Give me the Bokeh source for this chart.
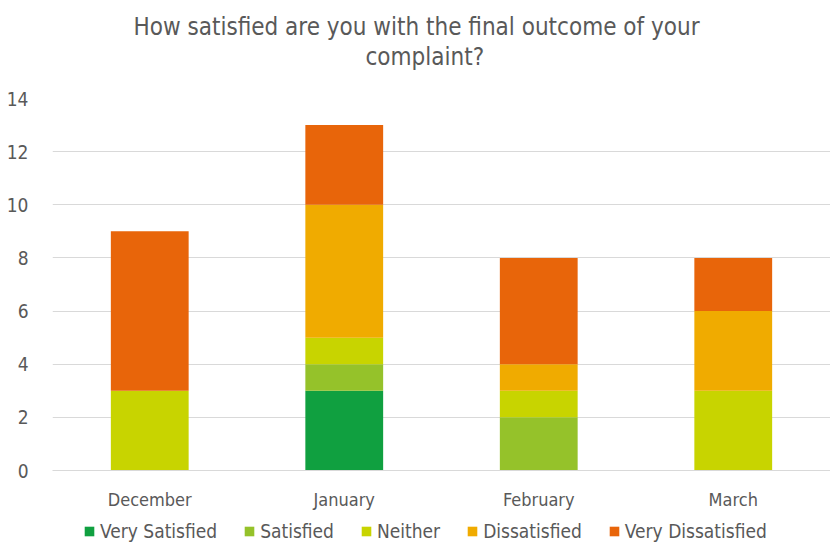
from bokeh.plotting import figure
from bokeh.models import (ColumnDataSource, Legend, Title, FactorRange, Range1d,
                          SingleIntervalTicker)
from bokeh.layouts import column
from bokeh.embed import file_html
from bokeh.resources import INLINE

months = ["December", "January", "February", "March"]
series = ["Very Satisfied", "Satisfied", "Neither", "Dissatisfied", "Very Dissatisfied"]
very_satisfied = [0, 3, 0, 0]
satisfied = [0, 1, 2, 0]
neither = [3, 1, 1, 3]
dissatisfied = [0, 5, 1, 3]
very_dissatisfied = [6, 3, 4, 2]
colors = ["#10a040", "#95c22a", "#c8d400", "#f0ab00", "#e8650a"]

FONT = "DejaVu Sans Condensed"
TXT = "#595959"

src = ColumnDataSource(dict(month=months, **{
    "Very Satisfied": very_satisfied,
    "Satisfied": satisfied,
    "Neither": neither,
    "Dissatisfied": dissatisfied,
    "Very Dissatisfied": very_dissatisfied,
}))

p = figure(frame_width=778, frame_height=372, x_range=FactorRange(*months, range_padding=0),
           y_range=Range1d(0, 14), output_backend="svg", toolbar_location=None,
           min_border_left=52, min_border_right=0, min_border_top=98, min_border_bottom=44)
p.title.visible = False

t2 = Title(text="complaint?", align="left", text_font=FONT, text_font_size="24px",
           text_color=TXT, text_font_style="normal", offset=313, standoff=55)
t1 = Title(text="How satisfied are you with the final outcome of your", align="left",
           text_font=FONT, text_font_size="24px", text_color=TXT,
           text_font_style="normal", offset=81, standoff=-55)
p.add_layout(t2, "above")
p.add_layout(t1, "above")

p.vbar_stack(series, x="month", width=0.4, source=src, color=colors, line_color=None)

p.outline_line_color = None
p.background_fill_color = "white"
p.border_fill_color = "white"
p.xgrid.grid_line_color = None
p.ygrid.grid_line_color = "#d9d9d9"
p.ygrid.grid_line_width = 1
p.yaxis.ticker = SingleIntervalTicker(interval=2)
p.yaxis.axis_line_color = None
p.yaxis.major_tick_line_color = None
p.yaxis.minor_tick_line_color = None
p.yaxis.major_label_text_font = FONT
p.yaxis.major_label_text_font_size = "19px"
p.yaxis.major_label_text_color = TXT
p.yaxis.major_label_standoff = 18
p.xaxis.axis_line_color = "#d9d9d9"
p.xaxis.major_tick_line_color = None
p.xaxis.minor_tick_line_color = None
p.xaxis.major_label_text_font = FONT
p.xaxis.major_label_text_font_size = "18px"
p.xaxis.major_label_text_color = TXT
p.xaxis.major_label_standoff = 12

# Legend strip below the chart (its bars lie outside its visible range)
p2 = figure(width=830, height=35, x_range=FactorRange(*months), y_range=Range1d(100, 101),
            output_backend="svg", toolbar_location=None, x_axis_location=None,
            y_axis_location=None, min_border=0, min_border_left=0, min_border_right=0,
            min_border_top=0, min_border_bottom=0)
p2.outline_line_color = None
p2.grid.visible = False
p2.background_fill_color = "white"
p2.border_fill_color = "white"
lr = p2.vbar_stack(series, x="month", width=0.4, source=src, color=colors,
                   line_color=None)
legend = Legend(items=[(s, [rr]) for s, rr in zip(series, lr)], orientation="horizontal",
                location=(31, 7), label_text_font=FONT, label_text_font_size="19px",
                label_text_color=TXT, glyph_width=12, glyph_height=12, spacing=26,
                label_standoff=5, border_line_color=None, background_fill_alpha=0,
                padding=0, margin=0)
p2.add_layout(legend, "center")

layout = column(p, p2, spacing=0)
open("out.html", "w").write(file_html(layout, INLINE))
